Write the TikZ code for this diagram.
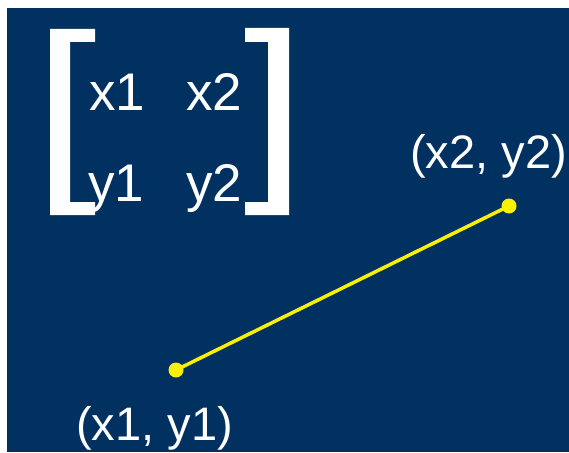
\documentclass[tikz,border=0pt]{standalone}
\usepackage{fontspec}
\setmainfont{Liberation Sans}
\definecolor{navy}{RGB}{0,49,96}
\definecolor{lineyellow}{RGB}{250,240,0}
\begin{document}
\begin{tikzpicture}[x=1pt,y=-1pt,
  lbl/.style={text=white,inner sep=0pt,anchor=base west,font=\fontsize{47}{47}\selectfont},
  ent/.style={text=white,inner sep=0pt,anchor=base west,font=\fontsize{53}{53}\selectfont},
  dot/.style={circle,fill=lineyellow,inner sep=0pt,minimum size=15pt},
  seg/.style={lineyellow,line width=3.5pt}]
\useasboundingbox (0,0) rectangle (569,452);
\fill[white] (0,0) rectangle (569,452);
\fill[navy] (7,8) rectangle (569,452);
% brackets
\fill[white] (50,29) -- (95,29) -- (95,42) -- (70,42) -- (70,202) -- (95,202) -- (95,215) -- (50,215) -- cycle;
\fill[white] (289,28) -- (245,28) -- (245,42) -- (268,42) -- (268,202) -- (245,202) -- (245,215) -- (289,215) -- cycle;
% matrix entries
\node[ent] (m11) at (89,110) {x1};
\node[ent] (m12) at (186,110) {x2};
\node[ent] (m21) at (88,201) {y1};
\node[ent] (m22) at (186,201) {y2};
% points
\node[dot] (p1) at (176,370) {};
\node[dot] (p2) at (509,206) {};
\draw[seg] (p1.center) -- (p2.center);
\node[lbl] (l2) at (410,168) {(x2, y2)};
\node[lbl] (l1) at (76,440) {(x1, y1)};
\end{tikzpicture}
\end{document}
